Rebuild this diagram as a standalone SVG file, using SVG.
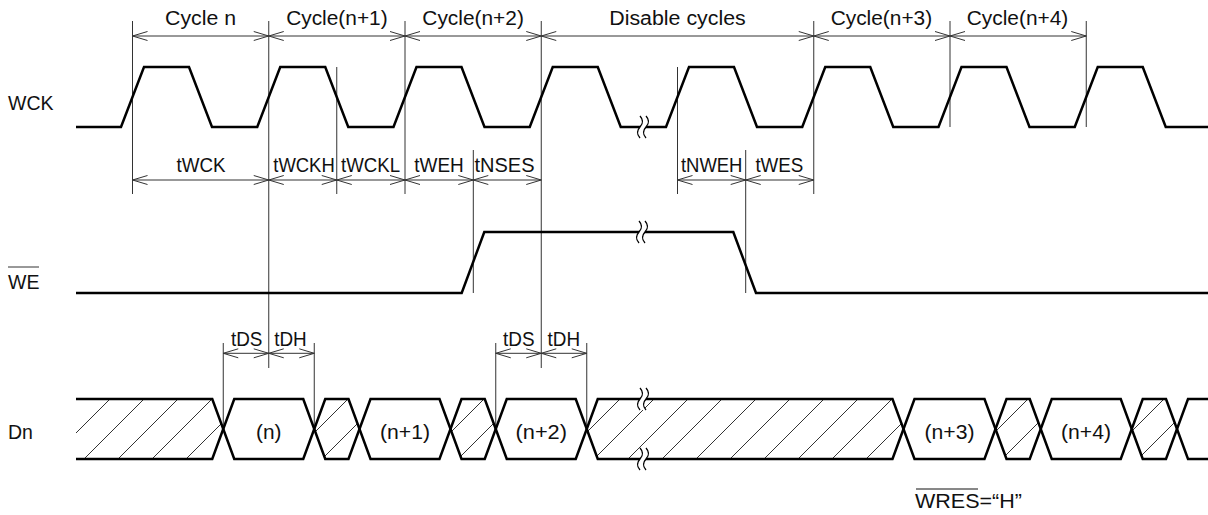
<svg xmlns="http://www.w3.org/2000/svg" width="1208" height="515" viewBox="0 0 1208 515">
<style>
.sig{fill:none;stroke:#000;stroke-width:2.5;stroke-linejoin:miter}
.thin{fill:none;stroke:#333;stroke-width:1}
.dim{fill:none;stroke:#333;stroke-width:1;marker-start:url(#arr);marker-end:url(#arr)}
text{font-family:"Liberation Sans",Arial,sans-serif;font-size:19.5px;fill:#111}
.c{text-anchor:middle}
</style>
<defs>
<marker id="arr" markerWidth="16" markerHeight="10" refX="15" refY="5" orient="auto-start-reverse" markerUnits="userSpaceOnUse" overflow="visible">
<path d="M0,0.5 L15,5 L0,9.5" fill="none" stroke="#333" stroke-width="1"/>
</marker>
<pattern id="hatch" patternUnits="userSpaceOnUse" x="33" y="0" width="34" height="34">
<path d="M-2,36 L36,-2 M-2,2 L2,-2 M32,36 L36,32" stroke="#333" stroke-width="1" fill="none"/>
</pattern>
<g id="brk">
<path d="M-3,-11 Q2,-5.5 -3,0 Q-8,5.5 -3,11 L3,11 Q-2,5.5 3,0 Q8,-5.5 3,-11 Z" fill="#fff" stroke="none"/>
<path d="M-3,-11 Q2,-5.5 -3,0 Q-8,5.5 -3,11 M3,-11 Q8,-5.5 3,0 Q-2,5.5 3,11" fill="none" stroke="#000" stroke-width="1.3"/>
</g>
</defs>

<g id="labels">
<text x="8" y="110">WCK</text>
<text x="8" y="289">WE</text>
<line class="thin" x1="8" y1="267" x2="39" y2="267" stroke="#111"/>
<text x="8" y="439">Dn</text>
</g>

<g id="connectors">
<line class="thin" x1="132.5" y1="21" x2="132.5" y2="194"/>
<line class="thin" x1="268.75" y1="21" x2="268.75" y2="368"/>
<line class="thin" x1="405" y1="21" x2="405" y2="194"/>
<line class="thin" x1="541.25" y1="21" x2="541.25" y2="368"/>
<line class="thin" x1="813.75" y1="21" x2="813.75" y2="194"/>
<line class="thin" x1="950" y1="21" x2="950" y2="127"/>
<line class="thin" x1="1086.25" y1="21" x2="1086.25" y2="127"/>
<line class="thin" x1="336.75" y1="67" x2="336.75" y2="194"/>
<line class="thin" x1="677.5" y1="67" x2="677.5" y2="194"/>
<line class="thin" x1="473.3" y1="150" x2="473.3" y2="293"/>
<line class="thin" x1="745.7" y1="150" x2="745.7" y2="293"/>
<line class="thin" x1="223.25" y1="343" x2="223.25" y2="429"/>
<line class="thin" x1="314.25" y1="343" x2="314.25" y2="429"/>
<line class="thin" x1="495.75" y1="343" x2="495.75" y2="429"/>
<line class="thin" x1="586.75" y1="343" x2="586.75" y2="429"/>
<line class="dim" x1="132.5" y1="36" x2="268.75" y2="36"/>
<line class="dim" x1="268.75" y1="36" x2="405" y2="36"/>
<line class="dim" x1="405" y1="36" x2="541.25" y2="36"/>
<line class="dim" x1="541.25" y1="36" x2="813.75" y2="36"/>
<line class="dim" x1="813.75" y1="36" x2="950" y2="36"/>
<line class="dim" x1="950" y1="36" x2="1086.25" y2="36"/>
<line class="dim" x1="132.5" y1="180" x2="268.75" y2="180"/>
<line class="dim" x1="268.75" y1="180" x2="336.75" y2="180"/>
<line class="dim" x1="336.75" y1="180" x2="405" y2="180"/>
<line class="dim" x1="405" y1="180" x2="473.3" y2="180"/>
<line class="dim" x1="473.3" y1="180" x2="541.25" y2="180"/>
<line class="dim" x1="677.5" y1="180" x2="745.7" y2="180"/>
<line class="dim" x1="745.7" y1="180" x2="813.75" y2="180"/>
<line class="dim" x1="223.25" y1="353.3" x2="268.75" y2="353.3"/>
<line class="dim" x1="268.75" y1="353.3" x2="314.25" y2="353.3"/>
<line class="dim" x1="495.75" y1="353.3" x2="541.25" y2="353.3"/>
<line class="dim" x1="541.25" y1="353.3" x2="586.75" y2="353.3"/>
</g>

<g id="dimension-labels">
<text class="c" x="200.6" y="25" textLength="71" lengthAdjust="spacingAndGlyphs">Cycle n</text>
<text class="c" x="336.9" y="25" textLength="101.5" lengthAdjust="spacingAndGlyphs">Cycle(n+1)</text>
<text class="c" x="473.1" y="25" textLength="101.5" lengthAdjust="spacingAndGlyphs">Cycle(n+2)</text>
<text class="c" x="677.5" y="25" textLength="136.5" lengthAdjust="spacingAndGlyphs">Disable cycles</text>
<text class="c" x="881.4" y="25" textLength="101.5" lengthAdjust="spacingAndGlyphs">Cycle(n+3)</text>
<text class="c" x="1017.5" y="25" textLength="101.5" lengthAdjust="spacingAndGlyphs">Cycle(n+4)</text>
<text class="c" x="201" y="172" textLength="49" lengthAdjust="spacingAndGlyphs">tWCK</text>
<text class="c" x="304" y="172" textLength="61.5" lengthAdjust="spacingAndGlyphs">tWCKH</text>
<text class="c" x="370.5" y="172" textLength="59" lengthAdjust="spacingAndGlyphs">tWCKL</text>
<text class="c" x="439" y="172" textLength="49.5" lengthAdjust="spacingAndGlyphs">tWEH</text>
<text class="c" x="504.5" y="172" textLength="60" lengthAdjust="spacingAndGlyphs">tNSES</text>
<text class="c" x="711.7" y="172" textLength="61.5" lengthAdjust="spacingAndGlyphs">tNWEH</text>
<text class="c" x="779.4" y="172" textLength="48" lengthAdjust="spacingAndGlyphs">tWES</text>
<text class="c" x="246.7" y="345.5" textLength="31.5" lengthAdjust="spacingAndGlyphs">tDS</text>
<text class="c" x="290.5" y="345.5" textLength="32.5" lengthAdjust="spacingAndGlyphs">tDH</text>
<text class="c" x="518.8" y="345.5" textLength="31.5" lengthAdjust="spacingAndGlyphs">tDS</text>
<text class="c" x="563.8" y="345.5" textLength="32.5" lengthAdjust="spacingAndGlyphs">tDH</text>
</g>

<g id="WCK">
<path class="sig" d="M76,127 L121,127 L144,67 L189,67 L212,127 L257.25,127 L280.25,67 L325.25,67 L348.25,127 L393.5,127 L416.5,67 L461.5,67 L484.5,127 L529.75,127 L552.75,67 L597.75,67 L620.75,127 L666,127 L689,67 L734,67 L757,127 L802.25,127 L825.25,67 L870.25,67 L893.25,127 L938.5,127 L961.5,67 L1006.5,67 L1029.5,127 L1074.75,127 L1097.75,67 L1142.75,67 L1165.75,127 L1208,127"/>
<use href="#brk" x="643" y="127"/>
</g>

<g id="WE">
<path class="sig" d="M76,293 L461.7,293 L484.3,232 L733.3,232 L756,293 L1208,293"/>
<use href="#brk" x="642" y="232"/>
</g>

<g id="Dn">
<polygon fill="url(#hatch)" points="76,399 212.25,399 223.25,429 212.25,459 76,459"/>
<polygon fill="url(#hatch)" points="314.25,429 325.25,399 348.5,399 359.5,429 348.5,459 325.25,459"/>
<polygon fill="url(#hatch)" points="450.5,429 461.5,399 484.75,399 495.75,429 484.75,459 461.5,459"/>
<polygon fill="url(#hatch)" points="586.75,429 597.75,399 892.5,399 903.5,429 892.5,459 597.75,459"/>
<polygon fill="url(#hatch)" points="995.5,429 1006.5,399 1029.75,399 1040.75,429 1029.75,459 1006.5,459"/>
<polygon fill="url(#hatch)" points="1131.75,429 1142.75,399 1166,399 1177,429 1166,459 1142.75,459"/>
<path class="sig" d="M76,399 L212.25,399 L234.25,459 L303.25,459 L325.25,399 L348.5,399 L370.5,459 L439.5,459 L461.5,399 L484.75,399 L506.75,459 L575.75,459 L597.75,399 L892.5,399 L914.5,459 L984.5,459 L1006.5,399 L1029.75,399 L1051.75,459 L1120.75,459 L1142.75,399 L1166,399 L1188,459 L1208,459"/>
<path class="sig" d="M76,459 L212.25,459 L234.25,399 L303.25,399 L325.25,459 L348.5,459 L370.5,399 L439.5,399 L461.5,459 L484.75,459 L506.75,399 L575.75,399 L597.75,459 L892.5,459 L914.5,399 L984.5,399 L1006.5,459 L1029.75,459 L1051.75,399 L1120.75,399 L1142.75,459 L1166,459 L1188,399 L1208,399"/>
<use href="#brk" x="643" y="399"/>
<use href="#brk" x="643" y="459"/>
<text class="c" x="268.75" y="438.5" textLength="25.5" lengthAdjust="spacingAndGlyphs">(n)</text>
<text class="c" x="405" y="438.5" textLength="50" lengthAdjust="spacingAndGlyphs">(n+1)</text>
<text class="c" x="541.25" y="438.5" textLength="51.5" lengthAdjust="spacingAndGlyphs">(n+2)</text>
<text class="c" x="949.5" y="438.5" textLength="50" lengthAdjust="spacingAndGlyphs">(n+3)</text>
<text class="c" x="1086" y="438.5" textLength="50" lengthAdjust="spacingAndGlyphs">(n+4)</text>
</g>

<g id="note">
<text x="915" y="507.5" textLength="107" lengthAdjust="spacingAndGlyphs">WRES=“H”</text>
<line x1="916" y1="489" x2="978" y2="489" stroke="#111" stroke-width="1"/>
</g>
</svg>
